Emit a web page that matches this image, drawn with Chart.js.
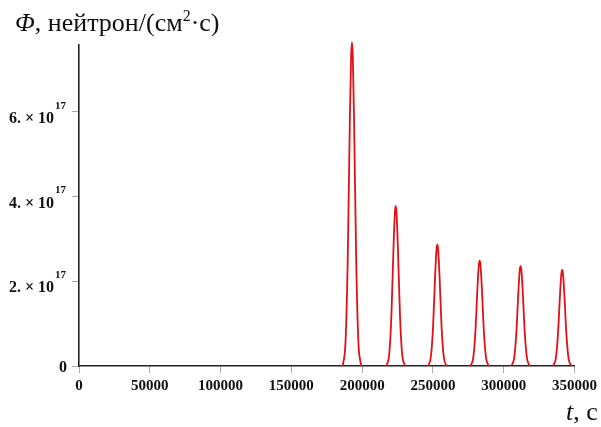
<!DOCTYPE html>
<html>
<head>
<meta charset="utf-8">
<script src="https://cdn.jsdelivr.net/npm/chart.js@4/dist/chart.umd.min.js"></script>
<style>
  body { margin: 0; background: #fff; }
  #wrap { position: relative; width: 601px; height: 427px; }
  .axis-title { position: absolute; font-family: "Liberation Serif", serif; font-size: 26px; line-height: 30px; color: #111; white-space: nowrap; }
  .axis-title sup { font-size: 16px; vertical-align: 10px; line-height: 0; }
</style>
</head>
<body>
<div id="wrap">
  <canvas id="chart" width="601" height="427"></canvas>
  <div class="axis-title" style="left:15px; top:8px;"><i>Φ</i>, нейтрон/(см<sup>2</sup>·с)</div>
  <div class="axis-title" style="left:566px; top:397px;"><i>t</i>, с</div>
</div>
<script>
// time, s (null separates the pulses)
const timeS = [
  186300, 188300, 189800, 191300, 192200, 192800, 193400, 194300, 195800, 197300, 199300, null,
  217200, 219200, 220700, 222200, 223100, 223700, 224300, 225200, 226700, 228200, 230200, null,
  246600, 248600, 250100, 251600, 252500, 253100, 253700, 254600, 256100, 257600, 259600, null,
  276500, 278500, 280000, 281500, 282400, 283000, 283600, 284500, 286000, 287500, 289500, null,
  305400, 307400, 308900, 310400, 311300, 311900, 312500, 313400, 314900, 316400, 318400, null,
  334800, 336800, 338300, 339800, 340700, 341300, 341900, 342800, 344300, 345800, 347800
];
// neutron flux, 10^17 neutron/(cm^2 s)
const fluxE17 = [
  0, 0.60, 2.49, 5.78, 7.31, 7.65, 7.31, 5.78, 2.49, 0.60, 0, null,
  0, 0.30, 1.23, 2.85, 3.61, 3.78, 3.61, 2.85, 1.23, 0.30, 0, null,
  0, 0.23, 0.93, 2.17, 2.74, 2.87, 2.74, 2.17, 0.93, 0.23, 0, null,
  0, 0.20, 0.81, 1.88, 2.38, 2.49, 2.38, 1.88, 0.81, 0.20, 0, null,
  0, 0.19, 0.77, 1.78, 2.26, 2.36, 2.26, 1.78, 0.77, 0.19, 0, null,
  0, 0.18, 0.74, 1.71, 2.17, 2.27, 2.17, 1.71, 0.74, 0.18, 0
];
const xTicks = [0, 50000, 100000, 150000, 200000, 250000, 300000, 350000];
const yTicks = [0, 2, 4, 6];
const yTickLabels = ['0', '2.', '4.', '6.'];

const tickFont = { family: '"Liberation Serif", serif', size: 15, weight: 'bold' };

// y labels like "6. × 10^17" with a raised exponent
const yLabelPlugin = {
  id: 'yLabels',
  afterDraw(chart) {
    const ctx = chart.ctx;
    const y = chart.scales.y;
    ctx.save();
    ctx.fillStyle = '#111';
    ctx.textBaseline = 'middle';
    yTicks.forEach((v, i) => {
      const py = y.getPixelForValue(v);
      ctx.font = 'bold 16px "Liberation Serif"';
      ctx.textAlign = 'right';
      if (v === 0) {
        ctx.fillText(yTickLabels[i], 67, py + 2);
        return;
      }
      ctx.fillText(yTickLabels[i] + ' × 10', 54, py + 7);
      ctx.font = 'bold 11px "Liberation Serif"';
      ctx.textAlign = 'left';
      ctx.fillText('17', 55, py - 6);
    });
    ctx.restore();
  }
};

new Chart(document.getElementById('chart').getContext('2d'), {
  type: 'line',
  data: {
    datasets: [{
      data: timeS.map((t, i) => ({ x: t, y: fluxE17[i] })),
      borderColor: 'rgb(226, 16, 24)',
      borderWidth: 1.8,
      pointRadius: 0,
      cubicInterpolationMode: 'monotone',
      spanGaps: false,
      clip: false
    }]
  },
  options: {
    responsive: false,
    devicePixelRatio: 1,
    animation: false,
    layout: { padding: { left: 0, right: 26, top: 45, bottom: 22 } },
    plugins: { legend: { display: false }, tooltip: { enabled: false } },
    scales: {
      x: {
        type: 'linear',
        min: 0,
        max: 350000,
        afterBuildTicks: s => { s.ticks = xTicks.map(v => ({ value: v })); },
        afterFit: s => { s.height = 39; },
        border: { color: '#222', width: 1.6 },
        grid: { drawOnChartArea: false, color: '#aaa', tickLength: 7 },
        ticks: { font: tickFont, color: '#111', padding: 4, maxRotation: 0, callback: v => String(v) }
      },
      y: {
        min: 0,
        max: 7.58,
        afterBuildTicks: s => { s.ticks = yTicks.map(v => ({ value: v })); },
        afterFit: s => { s.width = 79; },
        border: { color: '#222', width: 1.6 },
        grid: { drawOnChartArea: false, color: '#aaa', tickLength: 7 },
        ticks: { display: false }
      }
    }
  },
  plugins: [yLabelPlugin]
});
</script>
</body>
</html>
